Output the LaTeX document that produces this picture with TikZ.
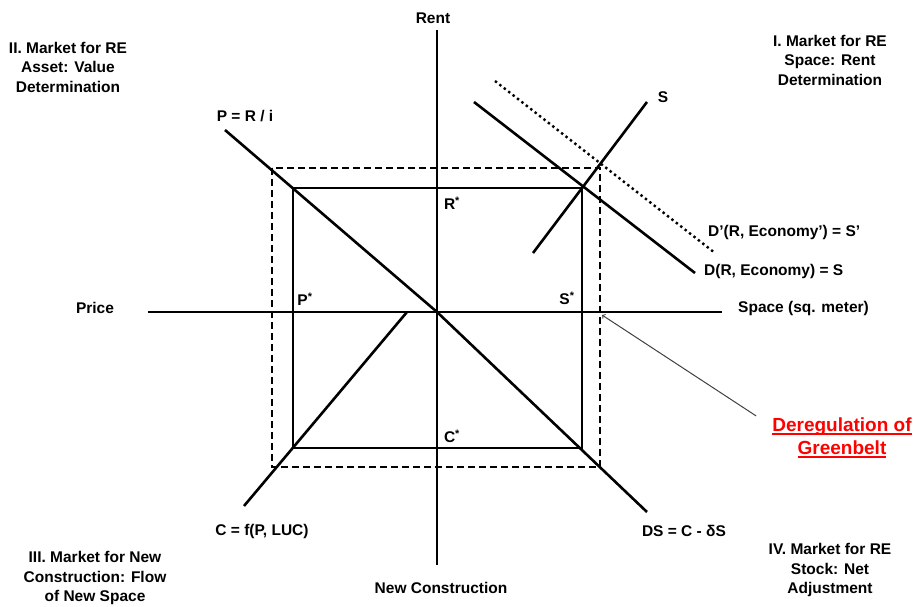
\documentclass[tikz,border=0pt]{standalone}
\usepackage{fontspec}
\setmainfont{Liberation Sans}
\usepackage{tikz}

% underline with a heavier rule than \underline gives
\newcommand{\ulbf}[1]{\setbox0\hbox{#1}\rlap{\rule[-3pt]{\wd0}{1.6pt}}\box0}

\begin{document}
\begin{tikzpicture}[x=1pt,y=1pt,
    every node/.style={font=\bfseries\fontsize{15.5}{19.5}\selectfont, inner sep=0pt},
    curve/.style={line width=2.6pt},
    thin line/.style={line width=1.1pt},
    shifted/.style={line width=1.1pt, dash pattern=on 7pt off 4pt},
    title/.style={align=center},
    pointer/.style={line width=1pt, draw=black!75, ->}]
    \useasboundingbox (-437,-294) rectangle (479,312);
    \coordinate (O) at (0,0);

    % axes
    \draw[thin line] (0,282) -- (0,-253);
    \draw[thin line] (-289,0) -- (285,0);

    % old equilibrium and the one after the shift
    \draw[thin line] (-144,124) rectangle (145,-136);
    \draw[shifted] (-165,144) rectangle (163,-155);

    % the four schedules
    \draw[curve] (-212,182) -- (O) -- (210,-200);
    \draw[curve] (-30,0) -- (-193,-194);
    \draw[curve] (96,59) -- (210,210);
    \draw[curve] (37,210) -- (258,39);
    \draw[line width=2.4pt, dash pattern=on 2.4pt off 3.2pt] (58,231) -- (278,59);

    % axis names
    \node (rent) at (-4,294) {Rent};
    \node (price) at (-342,4) {Price};
    \node[anchor=west] (space) at (301,4) {Space (sq. meter)};
    \node (newcon) at (4,-276) {New Construction};

    % equilibrium values
    \node (rstar) at (15,109) {R\textsuperscript{*}};
    \node (sstar) at (130,14) {S\textsuperscript{*}};
    \node (pstar) at (-132,13) {P\textsuperscript{*}};
    \node (cstar) at (15,-124) {C\textsuperscript{*}};

    % schedule labels
    \node (price eq) at (-192,196) {P = R / i};
    \node (supply) at (226,215) {S};
    \node[anchor=west] (demand new) at (271,80) {D'(R, Economy') = S'};
    \node[anchor=west] (demand) at (267,41) {D(R, Economy) = S};
    \node (constr) at (-175,-219) {C = f(P, LUC)};
    \node (stock) at (247,-219) {DS = C - δS};

    % quadrant titles
    \node[title] (qone) at (393,252) {I. Market for RE\\Space: Rent\\Determination};
    \node[title] (qtwo) at (-369,245) {II. Market for RE\\Asset: Value\\Determination};
    \node[title] (qthree) at (-342,-266) {III. Market for New\\Construction: Flow\\of New Space};
    \node[title] (qfour) at (393,-258) {IV. Market for RE\\Stock: Net\\Adjustment};

    % the shock
    \node[title, text=red, font=\bfseries\fontsize{19}{23}\selectfont] (dereg) at (405,-126)
        {\ulbf{Deregulation of}\\\ulbf{Greenbelt}};
    \coordinate (shock) at (165,-3);
    \draw[pointer] ([xshift=-16pt,yshift=2pt]dereg.north west) -- (shock);
\end{tikzpicture}
\end{document}
